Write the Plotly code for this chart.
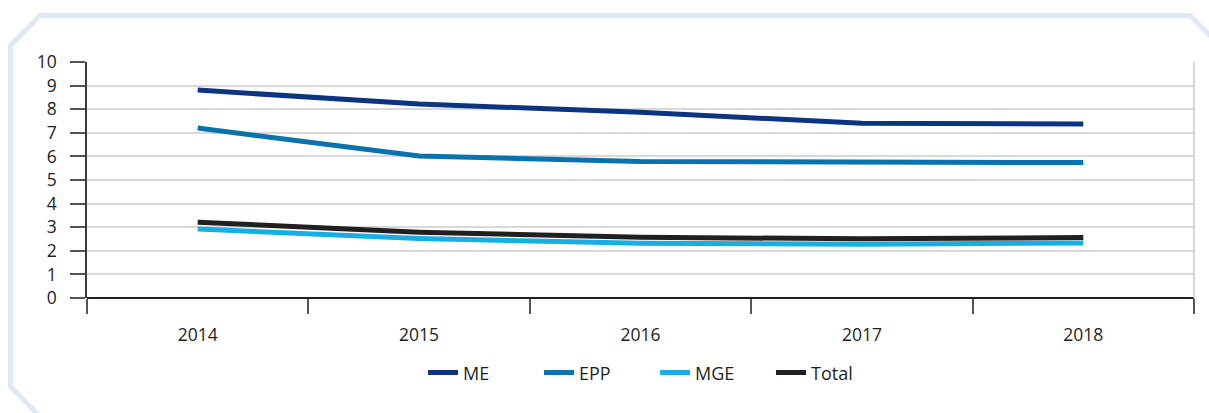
import plotly.graph_objects as go

years = ["2014", "2015", "2016", "2017", "2018"]
me = [8.81, 8.22, 7.87, 7.40, 7.37]
epp = [7.20, 6.02, 5.78, 5.77, 5.74]
mge = [2.92, 2.52, 2.32, 2.28, 2.33]
total = [3.21, 2.79, 2.57, 2.51, 2.56]

series = [("ME", me, "#0b3580"), ("EPP", epp, "#0a72ad"), ("MGE", mge, "#17afdf"), ("Total", total, "#231f20")]

W, H = 1209, 413
L, R, T, B = 87, 1194, 61.5, 298

fig = go.Figure()
for name, vals, col in series:
    fig.add_trace(go.Scatter(x=years, y=vals, mode="lines", name=name,
                             line=dict(color=col, width=5)))

def px(x):
    return (x - L) / (R - L)

def py(y):
    return (B - y) / (B - T)

pts = [(10.5, 45), (40, 15), (1190, 15), (1222, 47), (1222, 440), (63, 440), (10.5, 387)]
path = "M " + " L ".join(f"{px(x):.5f},{py(y):.5f}" for x, y in pts) + " Z"

fig.update_layout(
    width=W, height=H,
    margin=dict(l=L, r=W - R, t=T, b=H - B),
    paper_bgcolor="white", plot_bgcolor="white",
    font=dict(family="Open Sans, sans-serif", size=17, color="#231f20"),
    showlegend=True,
    legend=dict(orientation="h", x=px(655), xanchor="center", y=py(373), yanchor="middle",
                font=dict(size=18), itemwidth=30, entrywidth=71, tracegroupgap=0),
    xaxis=dict(type="category", range=[-0.5, 4.5], tickson="boundaries", ticks="outside",
               ticklen=15, tickcolor="#555555", tickwidth=1.5, showgrid=False, showline=False,
               ticklabelstandoff=24, fixedrange=True, tickfont=dict(size=17.5)),
    yaxis=dict(range=[0, 10], dtick=1, ticks="outside", ticklen=15, tickcolor="#555555",
               tickwidth=1.5, showgrid=True, gridcolor="#d9d9d9", gridwidth=1.5,
               showline=True, linecolor="#3a3a3a", linewidth=1.5, zeroline=True,
               zerolinecolor="#231f20", zerolinewidth=2, ticklabelstandoff=10,
               tickfont=dict(size=17.5), fixedrange=True),
    shapes=[
        dict(type="path", xref="paper", yref="paper", path=path, layer="below",
             line=dict(color="#dde9f6", width=5), fillcolor="rgba(0,0,0,0)"),
        dict(type="line", xref="paper", yref="paper", x0=1, x1=1, y0=0, y1=1,
             line=dict(color="#cccccc", width=1.5)),
    ],
)

fig.write_html("out.html", config={"displayModeBar": False},
               post_script="document.body.style.margin='0';document.body.style.overflow='hidden';")
